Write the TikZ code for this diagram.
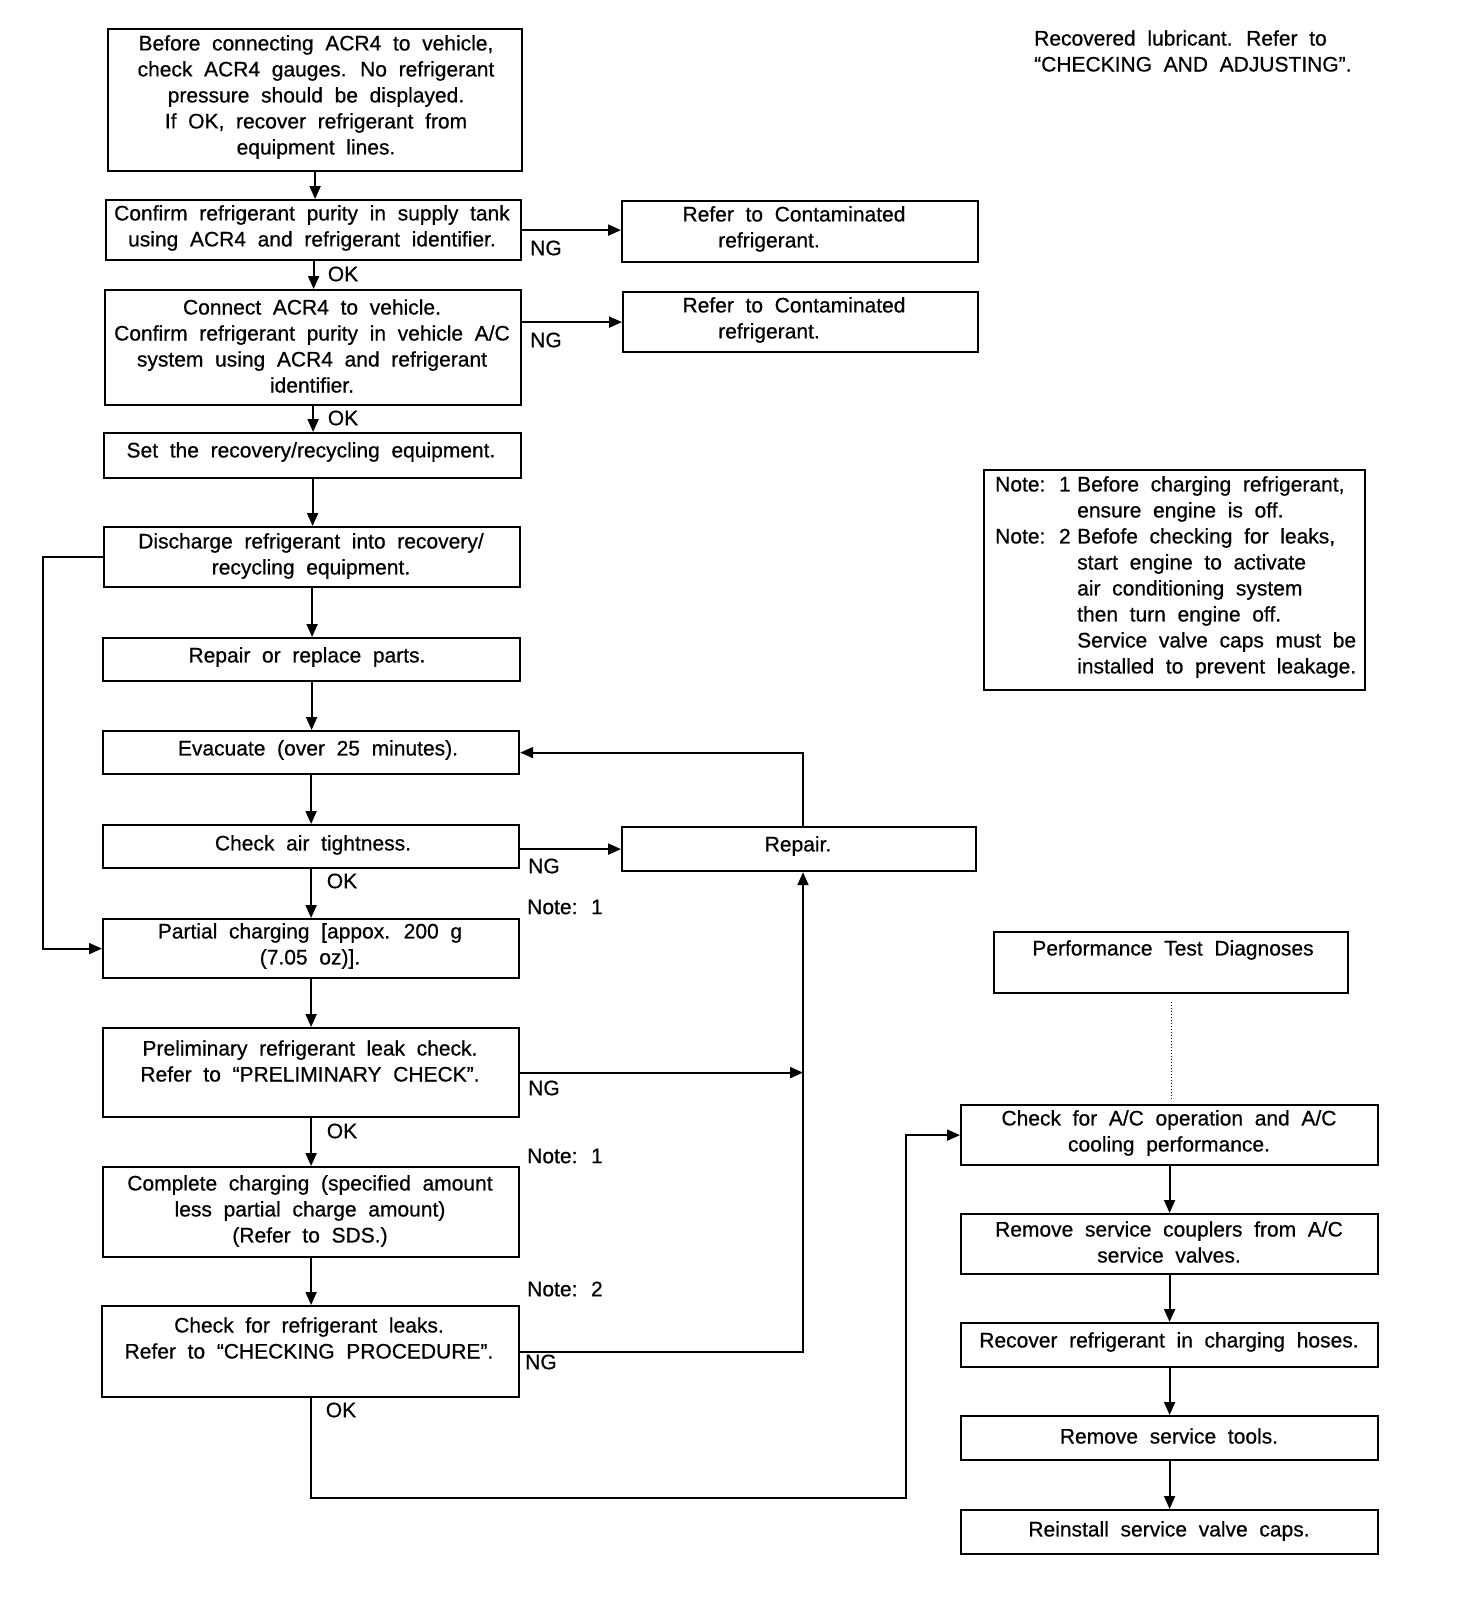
\documentclass[tikz,border=0pt]{standalone}
\usepackage{fontspec}
\setmainfont{Liberation Sans}[WordSpace=2.0, FakeBold=0.6]
\usetikzlibrary{arrows.meta}
\newcommand\fs{\fontsize{21}{26}\selectfont}
\newcommand\mkbox[5]{\node[boxs, minimum width={#4-#2}, minimum height={#5-#3}, anchor=north west] (#1) at (#2,#3) {};}
\begin{document}
\begin{tikzpicture}[x=1pt,y=-1pt,
  boxs/.style={draw, line width=2.2pt, inner sep=0pt},
  txt/.style={inner sep=0pt, align=center, font=\fs},
  lbl/.style={inner sep=0pt, font=\fs},
  arr/.style={line width=2pt, -{Triangle[length=13pt,width=11pt]}},
  ln/.style={line width=2pt}]
\useasboundingbox (0,0) rectangle (1472,1612);
% boxes
\mkbox{b1}{107}{28}{521}{170}
\mkbox{b2}{105}{199}{520}{259}
\mkbox{r1}{621}{200}{977}{261}
\mkbox{b3}{104}{289}{520}{404}
\mkbox{r2}{622}{291}{977}{351}
\mkbox{b4}{103}{432}{520}{477}
\mkbox{b5}{103}{526}{519}{586}
\mkbox{b6}{102}{637}{519}{680}
\mkbox{b7}{102}{730}{518}{773}
\mkbox{b8}{102}{824}{518}{867}
\mkbox{rep}{621}{826}{975}{870}
\mkbox{b9}{102}{918}{518}{977}
\mkbox{b10}{102}{1027}{518}{1116}
\mkbox{b11}{102}{1166}{518}{1256}
\mkbox{b12}{101}{1305}{518}{1396}
\mkbox{perf}{993}{931}{1347}{992}
\mkbox{b13}{960}{1104}{1377}{1164}
\mkbox{b14}{960}{1213}{1377}{1273}
\mkbox{b15}{960}{1322}{1377}{1366}
\mkbox{b16}{960}{1415}{1377}{1459}
\mkbox{b17}{960}{1509}{1377}{1553}
\mkbox{note}{983}{469}{1364}{689}
% texts
\node[txt] (t1) at (316,97) {Before connecting ACR4 to vehicle,\\check ACR4 gauges. No refrigerant\\pressure should be displayed.\\If OK, recover refrigerant from\\equipment lines.};
\node[txt] (t2) at (312,228) {Confirm refrigerant purity in supply tank\\using ACR4 and refrigerant identifier.};
\node[txt] (tr1) at (794,229) {Refer to Contaminated\\refrigerant.\hspace*{50pt}};
\node[txt] (t3) at (312,346) {Connect ACR4 to vehicle.\\Confirm refrigerant purity in vehicle A/C\\system using ACR4 and refrigerant\\identifier.};
\node[txt] (tr2) at (794,320) {Refer to Contaminated\\refrigerant.\hspace*{50pt}};
\node[txt] (t4) at (311,452) {Set the recovery/recycling equipment.};
\node[txt] (t5) at (311,556) {Discharge refrigerant into recovery/\\recycling equipment.};
\node[txt] (t6) at (307,657) {Repair or replace parts.};
\node[txt] (t7) at (318,750) {Evacuate (over 25 minutes).};
\node[txt] (t8) at (313,845) {Check air tightness.};
\node[txt] (trep) at (798,846) {Repair.};
\node[txt] (t9) at (310,946) {Partial charging [appox. 200 g\\(7.05 oz)].};
\node[txt] (t10) at (310,1061) {Preliminary refrigerant leak check.\\Refer to “PRELIMINARY CHECK”.};
\node[txt] (t11) at (310,1211) {Complete charging (specified amount\\less partial charge amount)\\(Refer to SDS.)};
\node[txt] (t12) at (309,1338) {Check for refrigerant leaks.\\Refer to “CHECKING PROCEDURE”.};
\node[txt] (tperf) at (1173,950) {Performance Test Diagnoses};
\node[txt] (t13) at (1169,1133) {Check for A/C operation and A/C\\cooling performance.};
\node[txt] (t14) at (1169,1242) {Remove service couplers from A/C\\service valves.};
\node[txt] (t15) at (1169,1342) {Recover refrigerant in charging hoses.};
\node[txt] (t16) at (1169,1436) {Remove service tools.};
\node[txt] (t17) at (1169,1531) {Reinstall service valve caps.};
\node[txt, align=left, anchor=west] (tnote) at (995,577) {\makebox[82pt][l]{Note: 1}Before charging refrigerant,\\\hspace*{82pt}ensure engine is off.\\\makebox[82pt][l]{Note: 2}Befofe checking for leaks,\\\hspace*{82pt}start engine to activate\\\hspace*{82pt}air conditioning system\\\hspace*{82pt}then turn engine off.\\\hspace*{82pt}Service valve caps must be\\\hspace*{82pt}installed to prevent leakage.};
\node[txt, align=left, anchor=west] (ttop) at (1034,51) {Recovered lubricant. Refer to\\“CHECKING AND ADJUSTING”.};
% labels
\node[lbl] (ok1) at (343,274) {OK};
\node[lbl] (ok2) at (343,418) {OK};
\node[lbl] (ok3) at (342,881) {OK};
\node[lbl] (ok4) at (342,1131) {OK};
\node[lbl] (ok5) at (341,1410) {OK};
\node[lbl] (ng1) at (546,248) {NG};
\node[lbl] (ng2) at (546,340) {NG};
\node[lbl] (ng3) at (544,866) {NG};
\node[lbl] (ng4) at (544,1088) {NG};
\node[lbl] (ng5) at (541,1362) {NG};
\node[lbl] (n1a) at (565,907) {Note: 1};
\node[lbl] (n1b) at (565,1156) {Note: 1};
\node[lbl] (n2) at (565,1289) {Note: 2};
% helper coordinates
\coordinate (rx) at (803,0);
\coordinate (lx) at (43,0);
\coordinate (c1) at (906,1498);
% connectors
\draw[arr] (b1.south) -- (b1.south |- b2.north);
\draw[arr] (b2.east) -- (b2.east -| r1.west);
\draw[arr] (b2.south) -- (b2.south |- b3.north);
\draw[arr] (r2.west -| b3.east) -- (r2.west);
\draw[arr] (b3.south) -- (b3.south |- b4.north);
\draw[arr] (b4.south) -- (b4.south |- b5.north);
\draw[arr] (b5.south) -- (b5.south |- b6.north);
\draw[arr] (b6.south) -- (b6.south |- b7.north);
\draw[arr] (b7.south) -- (b7.south |- b8.north);
\draw[arr] (b5.west) -- (b5.west -| lx) |- (b9.west);
\draw[arr] (b8.east |- rep.west) -- (rep.west);
\draw[arr] (rep.north -| rx) |- (b7.east);
\draw[arr] (b8.south) -- (b8.south |- b9.north);
\draw[arr] (b9.south) -- (b9.south |- b10.north);
\draw[arr] (b10.east) -- (b10.east -| rx);
\draw[arr] (b10.south) -- (b10.south |- b11.north);
\draw[arr] (b11.south) -- (b11.south |- b12.north);
\draw[arr] (b12.east) -| (rep.south -| rx);
\draw[arr] (b12.south) |- (c1) |- (b13.west);
\draw[line width=1pt, dotted, shorten <=8pt, shorten >=4pt] (perf.south) -- (perf.south |- b13.north);
\draw[arr] (b13.south) -- (b13.south |- b14.north);
\draw[arr] (b14.south) -- (b14.south |- b15.north);
\draw[arr] (b15.south) -- (b15.south |- b16.north);
\draw[arr] (b16.south) -- (b16.south |- b17.north);
\end{tikzpicture}
\end{document}
